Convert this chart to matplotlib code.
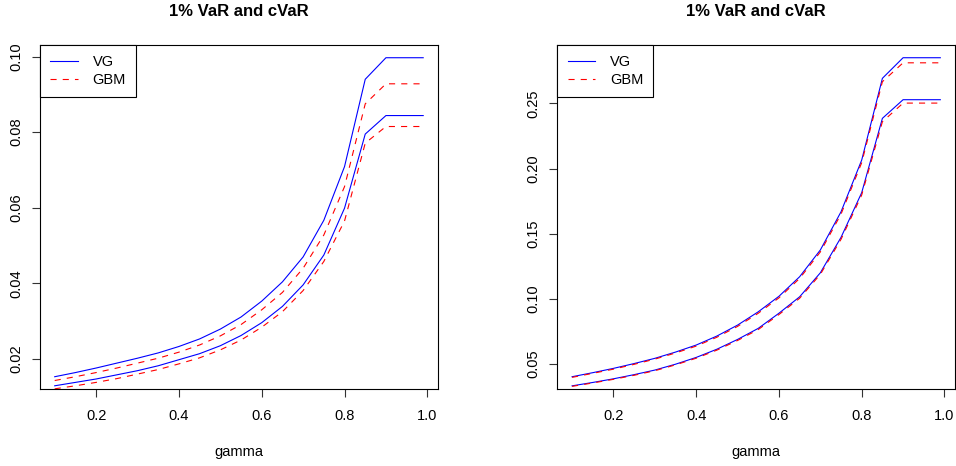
import numpy as np
import matplotlib
matplotlib.use('Agg')
import matplotlib.pyplot as plt

plt.rcParams['font.family'] = ['Liberation Sans', 'DejaVu Sans']

gamma = [0.10, 0.15, 0.20, 0.25, 0.30, 0.35, 0.40, 0.45, 0.50, 0.55,
         0.60, 0.65, 0.70, 0.75, 0.80, 0.85, 0.90, 0.95, 0.99]

# left panel
cvar_vg_1 = [0.0153, 0.0164, 0.0176, 0.0189, 0.0202, 0.0216, 0.0233, 0.0253, 0.0279, 0.0311,
             0.0353, 0.0404, 0.0470, 0.0567, 0.0709, 0.0940, 0.0997, 0.0997, 0.0997]
cvar_gbm_1 = [0.0143, 0.0153, 0.0164, 0.0176, 0.0189, 0.0202, 0.0218, 0.0237, 0.0261, 0.0291,
              0.0330, 0.0376, 0.0440, 0.0528, 0.0656, 0.0875, 0.0928, 0.0928, 0.0928]
var_vg_1 = [0.0129, 0.0138, 0.0147, 0.0158, 0.0169, 0.0182, 0.0198, 0.0214, 0.0235, 0.0262,
            0.0296, 0.0339, 0.0396, 0.0475, 0.0599, 0.0795, 0.0844, 0.0844, 0.0844]
var_gbm_1 = [0.0121, 0.0129, 0.0138, 0.0148, 0.0160, 0.0172, 0.0187, 0.0203, 0.0224, 0.0250,
             0.0284, 0.0325, 0.0381, 0.0458, 0.0565, 0.0771, 0.0815, 0.0815, 0.0815]

# right panel
cvar_vg_2 = [0.0403, 0.0434, 0.0467, 0.0504, 0.0544, 0.0592, 0.0646, 0.0715, 0.0799, 0.0901,
             0.1020, 0.1170, 0.1375, 0.1668, 0.2065, 0.2692, 0.2850, 0.2850, 0.2850]
cvar_gbm_2 = [0.0398, 0.0429, 0.0461, 0.0498, 0.0538, 0.0585, 0.0638, 0.0706, 0.0789, 0.0890,
              0.1008, 0.1157, 0.1360, 0.1650, 0.2045, 0.2666, 0.2811, 0.2811, 0.2811]
var_vg_2 = [0.0333, 0.0359, 0.0387, 0.0419, 0.0454, 0.0499, 0.0551, 0.0614, 0.0689, 0.0774,
            0.0890, 0.1016, 0.1200, 0.1472, 0.1815, 0.2385, 0.2528, 0.2528, 0.2528]
var_gbm_2 = [0.0329, 0.0355, 0.0383, 0.0414, 0.0449, 0.0494, 0.0545, 0.0607, 0.0681, 0.0765,
             0.0880, 0.1005, 0.1188, 0.1457, 0.1797, 0.2359, 0.2502, 0.2502, 0.2502]

xticks = [0.2, 0.4, 0.6, 0.8, 1.0]
yticks_1 = [0.02, 0.04, 0.06, 0.08, 0.10]
yticks_2 = [0.05, 0.10, 0.15, 0.20, 0.25]


def r_range(v):
   # R style axis range: data range padded by 4% on both sides
   lo, hi = min(v), max(v)
   d = (hi - lo) * 0.04
   return lo - d, hi + d


def panel(ax, cvar_vg, cvar_gbm, var_vg, var_gbm, yticks, yfmt):
   ax.plot(gamma, cvar_vg, color='blue', lw=0.8, label='VG')
   ax.plot(gamma, cvar_gbm, color='red', lw=0.8, ls=(0, (5.5, 5.5)), label='GBM')
   ax.plot(gamma, var_vg, color='blue', lw=0.8)
   ax.plot(gamma, var_gbm, color='red', lw=0.8, ls=(0, (5.5, 5.5)))
   ax.set_xlim(r_range(gamma))
   ax.set_ylim(r_range(cvar_vg))
   ax.set_xticks(xticks)
   ax.set_xticklabels(['%.1f' % t for t in xticks])
   ax.set_yticks(yticks)
   ax.set_yticklabels([yfmt % t for t in yticks], rotation=90, va='center')
   ax.tick_params(direction='out', length=6, width=0.8, labelsize=10.5, color='#333333')
   ax.tick_params(axis='x', pad=8)
   ax.tick_params(axis='y', pad=6)
   for s in ax.spines.values():
      s.set_linewidth(0.8)
   ax.set_xlabel('gamma', fontsize=10.5, labelpad=16)
   ax.set_title('1% VaR and cVaR', fontsize=12, fontweight='bold', pad=21)
   leg = ax.legend(loc='upper left', bbox_to_anchor=(0, 1), borderaxespad=0,
                   fancybox=False, edgecolor='black', framealpha=1, fontsize=10.5,
                   handlelength=1.9, handletextpad=1.0, borderpad=0.7, labelspacing=0.25)
   leg.get_frame().set_linewidth(0.8)


fig = plt.figure(figsize=(9.56, 4.66), dpi=100)
ax1 = fig.add_axes([0.0418, 0.1642, 0.4163, 0.7393])
ax2 = fig.add_axes([0.5830, 0.1642, 0.4160, 0.7393])

panel(ax1, cvar_vg_1, cvar_gbm_1, var_vg_1, var_gbm_1, yticks_1, '%.2f')
panel(ax2, cvar_vg_2, cvar_gbm_2, var_vg_2, var_gbm_2, yticks_2, '%.2f')

fig.savefig('out.png', dpi=100)
